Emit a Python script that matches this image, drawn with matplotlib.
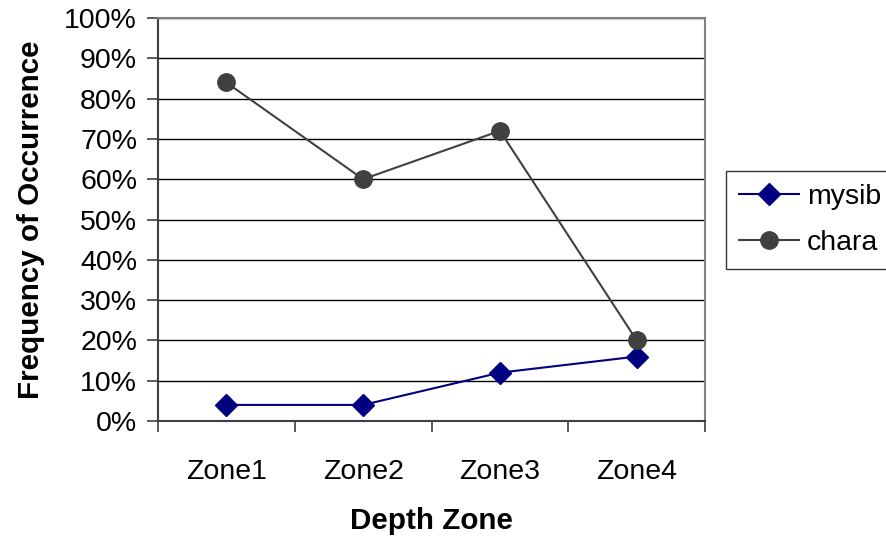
import matplotlib
matplotlib.use("Agg")
from matplotlib import pyplot as plt
import numpy as np

zones = ["Zone1", "Zone2", "Zone3", "Zone4"]
mysib = [4, 4, 12, 16]
chara = [84, 60, 72, 20]
yticks = [0, 10, 20, 30, 40, 50, 60, 70, 80, 90, 100]

plt.rcParams["font.family"] = ["Liberation Sans", "DejaVu Sans"]

fig = plt.figure(figsize=(8.87, 5.42), dpi=100)
ax = fig.add_axes([0.178, 0.2232, 0.617, 0.7436])

x = np.arange(len(zones))
ax.plot(x, mysib, color="#000080", lw=1.5, marker="D", markersize=11, label="mysib", zorder=3)
ax.plot(x, chara, color="#404040", lw=1.5, marker="o", markersize=12.5, label="chara", zorder=3)

ax.set_xlim(-0.5, len(zones) - 0.5)
ax.set_ylim(0, 100)
ax.set_yticks(yticks)
ax.set_yticklabels([f"{v}%" for v in yticks], fontsize=20.5)
ax.set_xticks(x)
ax.set_xticklabels(zones, fontsize=20.5)
ax.set_xticks(np.arange(-0.5, len(zones)), minor=True)
ax.tick_params(axis="x", which="major", length=0, pad=27)
ax.tick_params(axis="x", which="minor", length=8, width=1.2, color="#404040")
ax.tick_params(axis="y", length=8, width=1.2, color="#404040", pad=7)

ax.yaxis.grid(True, color="black", lw=1)
ax.set_axisbelow(True)
for side in ["top", "right"]:
    ax.spines[side].set_color("#808080")
    ax.spines[side].set_linewidth(1.5)
for side in ["left", "bottom"]:
    ax.spines[side].set_color("#404040")
    ax.spines[side].set_linewidth(1.5)

ax.set_xlabel("Depth Zone", fontsize=21.3, fontweight="bold", labelpad=16)
ax.set_ylabel("Frequency of Occurrence", fontsize=21.3, fontweight="bold", labelpad=14)

leg = fig.legend(loc="upper left", bbox_to_anchor=(0.8185, 0.6845), fontsize=20.5,
                 frameon=True, fancybox=False, edgecolor="black", handlelength=2.1,
                 borderpad=0.45, labelspacing=0.72, handletextpad=0.28, borderaxespad=0)
leg.get_frame().set_linewidth(1)

fig.savefig("out.png", dpi=100)
